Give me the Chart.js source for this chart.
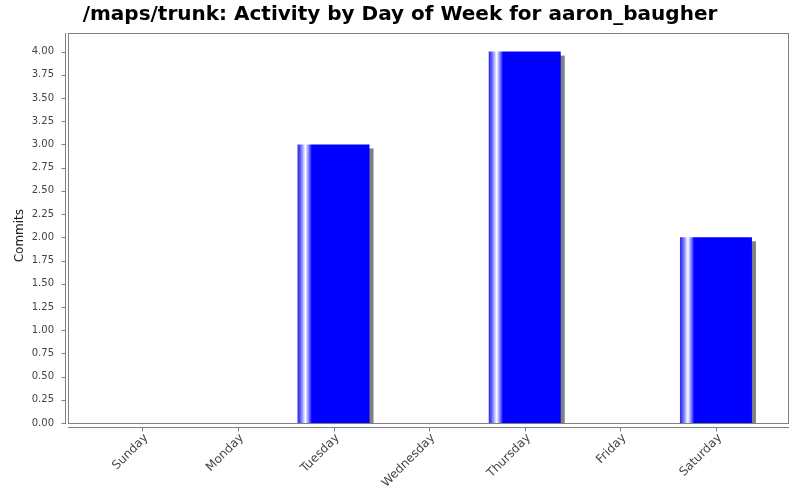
<!DOCTYPE html>
<html>
<head>
<meta charset="utf-8">
<script src="https://cdn.jsdelivr.net/npm/chart.js@4"></script>
<style>
  html, body { margin: 0; padding: 0; background: #fff; }
</style>
</head>
<body>
<canvas id="myChart" width="800" height="500"></canvas>
<script>
const chartTitle = "/maps/trunk: Activity by Day of Week for aaron_baugher";
const days = ["Sunday", "Monday", "Tuesday", "Wednesday", "Thursday", "Friday", "Saturday"];
const commits = [0, 0, 3, 0, 4, 0, 2];
const yTicks = [0, 0.25, 0.5, 0.75, 1, 1.25, 1.5, 1.75, 2, 2.25, 2.5, 2.75, 3, 3.25, 3.5, 3.75, 4];

const axisGray = "#808080";

// plot frame, offset axis lines, bar shadows and the gradient fill
const jfreePlugin = {
  id: "jfree",
  beforeDatasetsDraw(chart) {
    const ctx = chart.ctx;
    const a = chart.chartArea;
    const xs = chart.scales.x, ys = chart.scales.y;
    ctx.save();
    ctx.strokeStyle = axisGray;
    ctx.lineWidth = 1;
    ctx.strokeRect(a.left + 0.5, a.top + 0.5, a.right - a.left - 1, a.bottom - a.top);

    // y axis line + ticks
    const yx = a.left - 3 + 0.5;
    ctx.beginPath();
    ctx.moveTo(yx, a.top);
    ctx.lineTo(yx, a.bottom + 1);
    yTicks.forEach(v => {
      const py = Math.round(ys.getPixelForValue(v)) + 0.5;
      ctx.moveTo(yx - 4, py);
      ctx.lineTo(yx, py);
    });
    // x axis line + ticks
    const xy = a.bottom + 4 + 0.5;
    ctx.moveTo(a.left, xy);
    ctx.lineTo(a.right, xy);
    days.forEach((d, i) => {
      const px = Math.round(xs.getPixelForValue(i)) + 0.5;
      ctx.moveTo(px, xy);
      ctx.lineTo(px, xy + 4);
    });
    ctx.stroke();

    // shadows
    ctx.beginPath();
    ctx.rect(a.left, a.top, a.right - a.left, a.bottom - a.top);
    ctx.clip();
    const meta = chart.getDatasetMeta(0);
    meta.data.forEach(el => {
      const h = el.base - el.y;
      if (h <= 0) return;
      const left = el.x - el.width / 2;
      ctx.fillStyle = "#808080";
      ctx.fillRect(left + 4, el.y + 4, el.width, h);
      const g = ctx.createLinearGradient(left, 0, left + el.width, 0);
      g.addColorStop(0, "#2a2ad8");
      g.addColorStop(0.04, "#5a5aff");
      g.addColorStop(0.11, "#ffffff");
      g.addColorStop(0.15, "#9090ff");
      g.addColorStop(0.2, "#0000ff");
      g.addColorStop(1, "#0000ff");
      el.options.backgroundColor = g;
    });
    ctx.restore();
  }
};

const ctx = document.getElementById("myChart").getContext("2d");
const chart = new Chart(ctx, {
  type: "bar",
  data: {
    datasets: [
      {
        label: "Commits",
        data: days.map((d, i) => ({ x: i, y: commits[i] })),
        backgroundColor: () => "#0000ff",
        borderWidth: 0,
        categoryPercentage: 1,
        barPercentage: 0.753
      }
    ]
  },
  options: {
    responsive: false,
    animation: false,
    layout: { padding: { left: 11, right: 11, top: 0, bottom: 0 } },
    plugins: {
      legend: { display: false },
      tooltip: { enabled: false },
      title: {
        display: true,
        text: chartTitle,
        color: "#000",
        font: { family: "DejaVu Sans", size: 20, weight: "bold" },
        padding: { top: 3, bottom: 6 }
      }
    },
    scales: {
      x: {
        type: "linear",
        offset: false,
        min: -0.777,
        max: 6.764,
        grid: { display: false, drawTicks: false, offset: false },
        border: { display: false },
        afterBuildTicks: s => { s.ticks = days.map((d, i) => ({ value: i })); },
        afterFit: s => { s.height = 77; },
        ticks: {
          autoSkip: false,
          minRotation: 45,
          maxRotation: 45,
          padding: 8,
          labelOffset: 4,
          color: "#444",
          font: { family: "DejaVu Sans", size: 12 },
          callback: v => days[v]
        }
      },
      y: {
        min: 0,
        max: 4.2,
        grid: { display: false, drawTicks: false },
        border: { display: false },
        afterBuildTicks: s => { s.ticks = yTicks.map(v => ({ value: v })); },
        afterFit: s => { s.width = 57; },
        ticks: {
          padding: 14,
          color: "#444",
          font: { family: "DejaVu Sans", size: 10 },
          callback: v => v.toFixed(2)
        },
        title: {
          display: true,
          text: "Commits\u00a0\u00a0\u00a0\u00a0",
          color: "#222",
          font: { family: "DejaVu Sans", size: 12 },
          padding: { top: 1.3, bottom: 0 }
        }
      }
    }
  },
  plugins: [jfreePlugin]
});
</script>
</body>
</html>
